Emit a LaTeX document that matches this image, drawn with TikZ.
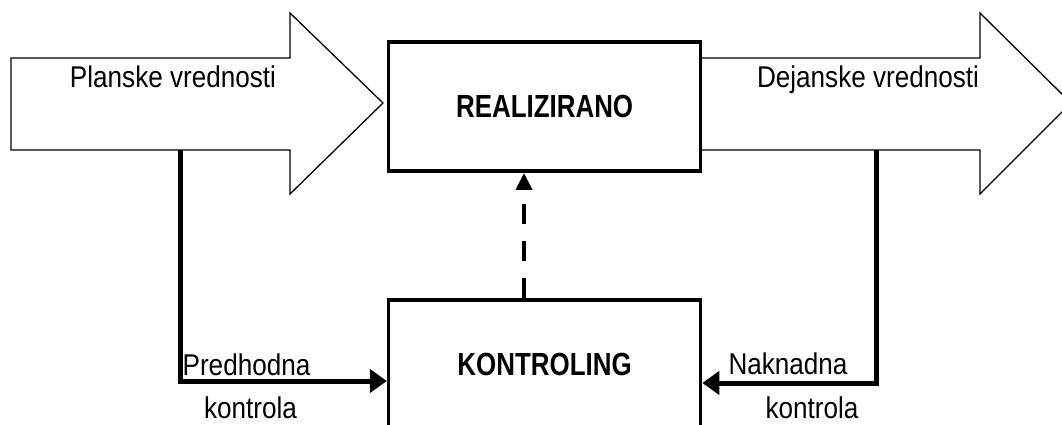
\documentclass[tikz,border=0pt]{standalone}
\usepackage{fontspec}
\setmainfont{Liberation Sans}
\newfontfamily\lblfont{Liberation Sans}[FakeStretch=0.87]
\newfontfamily\boxfont{Liberation Sans}[FakeStretch=0.81]
\usetikzlibrary{arrows.meta, positioning, backgrounds}

\begin{document}
\begin{tikzpicture}[
    x=1pt, y=-1pt,
    node distance=125pt,
    bigarrow/.style={draw=black, line width=1.3pt, fill=white, line join=miter},
    box/.style={rectangle, draw=black, line width=3.5pt, fill=white, minimum width=312pt, minimum height=129pt, font=\boxfont\bfseries\fontsize{32}{38}\selectfont},
    lbl/.style={inner sep=0pt, anchor=base, font=\lblfont\fontsize{30}{36}\selectfont},
    ctrl/.style={line width=5pt, line join=miter, -{Triangle[length=17pt, width=23pt]}},
    dasharrow/.style={line width=4pt, dash pattern=on 20pt off 17pt, -{Triangle[length=17pt, width=16pt]}}
]
    \useasboundingbox (0,0) rectangle (1062,425);
    \clip (0,0) rectangle (1062,425);

    % Nodes
    \node[box] (real) at (544.6,106.7) {REALIZIRANO};
    \node[box, below=125.2pt of real] (kon) {KONTROLING};

    % Block arrows
    \begin{scope}[on background layer]
        \fill[white] (0,0) rectangle (1062,425);
        \draw[bigarrow] (11,58) -- (290,58) -- (290,13) -- (383,103) -- (290,194) -- (290,150) -- (11,150) -- cycle;
        \draw[bigarrow] (701,58) -- (980,58) -- (980,13) -- (1071,103) -- (980,194) -- (980,150) -- (701,150) -- cycle;
    \end{scope}

    \node[lbl] (planlbl) at (173,88) {Planske vrednosti};
    \node[lbl] (dejlbl) at (868,88) {Dejanske vrednosti};
    \node[lbl] (predlbl) at (246.5,375) {Predhodna};
    \node[lbl] (predlbl2) at (250.5,418) {kontrola};
    \node[lbl] (naklbl) at (788,374) {Naknadna};
    \node[lbl] (naklbl2) at (812,418) {kontrola};

    % Paths
    \coordinate (plantop) at (180.5,150);
    \coordinate (lcorner) at (180.5,381);
    \coordinate (dejtop) at (876,150);
    \coordinate (rcorner) at (876,383);
    \draw[ctrl] (plantop) -- (lcorner) -- (kon.west |- lcorner);
    \draw[ctrl] (dejtop) -- (rcorner) -- (kon.east |- rcorner);
    \draw[dasharrow] ([xshift=-20.6pt]kon.north) -- ([xshift=-20.6pt]real.south);
\end{tikzpicture}
\end{document}
